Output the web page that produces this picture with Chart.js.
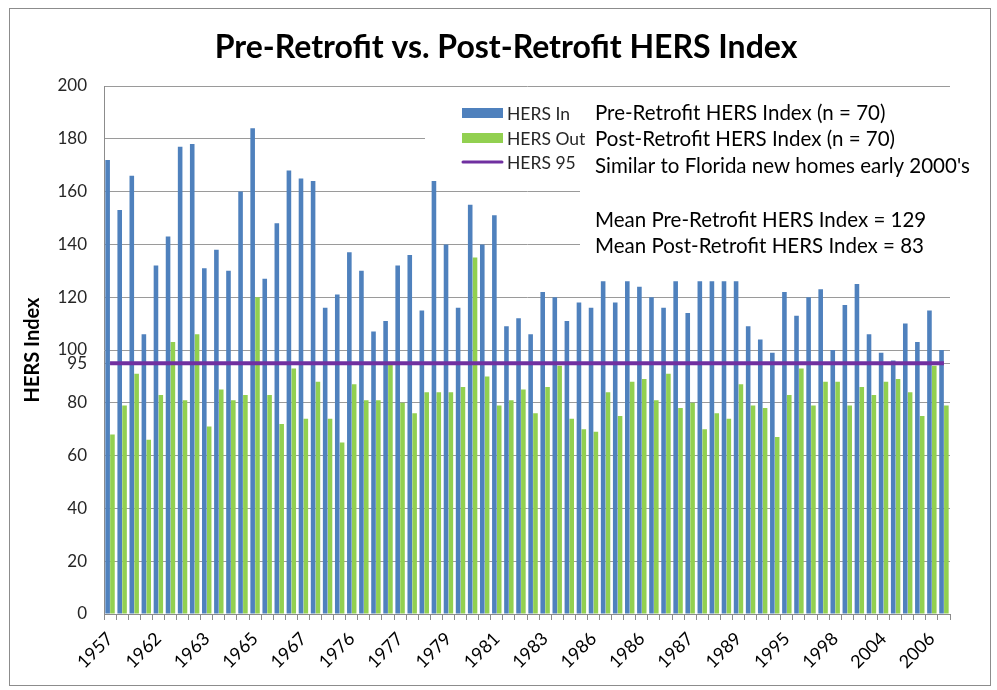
<!DOCTYPE html>
<html>
<head>
<meta charset="utf-8">
<script src="https://cdn.jsdelivr.net/npm/chart.js@4.4.1/dist/chart.umd.min.js"></script>
<style>
  html, body { margin: 0; padding: 0; background: #fff; }
  #wrap { width: 997px; height: 690px; position: relative; }
</style>
</head>
<body>
<div id="wrap"><canvas id="c" width="997" height="690"></canvas></div>
<script>
// ---- data ----
const tickLabels = ['1957','1962','1963','1965','1967','1976','1977','1979','1981',
                    '1983','1986','1986','1987','1989','1995','1998','2004','2006'];

const hersIn = [172,153,166,106,132,143,177,178,131,138,
                130,160,184,127,148,168,165,164,116,121,
                137,130,107,111,132,136,115,164,140,116,
                155,140,151,109,112,106,122,120,111,118,
                116,126,118,126,124,120,116,126,114,126,
                126,126,126,109,104,99,122,113,120,123,
                100,117,125,106,99,96,110,103,115,100];

const hersOut = [68,79,91,66,83,103,81,106,71,85,
                 81,83,120,83,72,93,74,88,74,65,
                 87,81,81,95,80,76,84,84,84,86,
                 135,90,79,81,85,76,86,94,74,70,
                 69,84,75,88,89,81,91,78,80,70,
                 76,74,87,79,78,67,83,93,79,88,
                 88,79,86,83,88,89,84,75,94,79];

const hersRef = 95;
const yTicksExtra = [95];

const seriesNames = ['HERS In', 'HERS Out', 'HERS 95'];
const titleText = 'Pre-Retrofit vs. Post-Retrofit HERS Index';
const yTitle = 'HERS Index';
const noteLines = [
  'Pre-Retrofit HERS Index (n = 70)',
  'Post-Retrofit HERS Index (n = 70)',
  "Similar to Florida new homes early 2000's",
  'Mean Pre-Retrofit HERS Index = 129',
  'Mean Post-Retrofit HERS Index = 83'
];

// category labels: one per house, only every 4th is labelled in the picture
const categories = hersIn.map((_, i) => (i % 4 === 0 ? tickLabels[i / 4] : ''));

const BLUE = '#4F81BD', GREEN = '#92D050', PURPLE = '#7030A0';
const FONT = 'Lato, "Open Sans", sans-serif';

const decor = {
  id: 'decor',
  beforeDraw(chart) {
    const ctx = chart.ctx;
    ctx.save();
    ctx.fillStyle = '#fff';
    ctx.fillRect(0, 0, chart.width, chart.height);
    ctx.strokeStyle = '#8c8c8c';
    ctx.lineWidth = 1;
    ctx.strokeRect(9.5, 8.5, 981, 677);
    ctx.restore();
  },
  beforeDatasetsDraw(chart) {
    const ctx = chart.ctx;
    ctx.save();
    ctx.fillStyle = '#fff';
    ctx.fillRect(425, 92, 155, 92);   // legend box
    ctx.fillRect(580, 92, 380, 176);  // note box
    ctx.restore();
  },
  afterDraw(chart) {
    const ctx = chart.ctx;
    ctx.save();
    // title
    ctx.fillStyle = '#000';
    ctx.font = 'bold 32px ' + FONT;
    ctx.textAlign = 'center';
    ctx.textBaseline = 'alphabetic';
    ctx.fillText(titleText, 506, 58);

    // legend
    ctx.textAlign = 'left';
    ctx.textBaseline = 'middle';
    ctx.font = '17.5px ' + FONT;
    const lx = 462, ly = [113, 138, 162];
    ctx.fillStyle = BLUE;  ctx.fillRect(lx, ly[0] - 5, 41, 10);
    ctx.fillStyle = GREEN; ctx.fillRect(lx, ly[1] - 5, 41, 10);
    ctx.strokeStyle = PURPLE; ctx.lineWidth = 3; ctx.lineCap = 'round';
    ctx.beginPath(); ctx.moveTo(lx + 1, ly[2]); ctx.lineTo(lx + 40, ly[2]); ctx.stroke();
    ctx.fillStyle = '#262626';
    seriesNames.forEach((n, i) => ctx.fillText(n, 507, ly[i] + 1));

    // note text
    ctx.fillStyle = '#000';
    ctx.font = '20.5px ' + FONT;
    const ny = [113, 139, 166, 220, 246];
    noteLines.forEach((t, i) => ctx.fillText(t, 595, ny[i]));
    ctx.restore();
  }
};

new Chart(document.getElementById('c'), {
  type: 'bar',
  data: {
    labels: categories,
    datasets: [
      { type: 'line', label: seriesNames[2], data: categories.map(() => hersRef),
        borderColor: PURPLE, borderWidth: 4, pointRadius: 0, fill: false, order: 0 },
      { label: seriesNames[0], data: hersIn, backgroundColor: BLUE,
        categoryPercentage: 0.8, barPercentage: 0.95, order: 1 },
      { label: seriesNames[1], data: hersOut, backgroundColor: GREEN,
        categoryPercentage: 0.8, barPercentage: 0.95, order: 1 }
    ]
  },
  options: {
    responsive: false,
    animation: false,
    layout: { padding: { left: 9, top: 86, right: 47, bottom: 4 } },
    plugins: { legend: { display: false }, title: { display: false }, tooltip: { enabled: false } },
    scales: {
      x: {
        afterFit(s) { s.height = 72; },
        grid: { display: true, drawOnChartArea: false, drawTicks: true, tickLength: 6,
                color: '#8c8c8c', offset: true },
        border: { color: '#8c8c8c' },
        ticks: { autoSkip: false, maxRotation: 45, minRotation: 45, padding: 8,
                 color: '#000', font: { family: FONT, size: 18 } }
      },
      y: {
        min: 0, max: 200,
        afterFit(s) { s.width = 95; },
        afterBuildTicks(axis) {
          yTicksExtra.forEach(v => axis.ticks.push({ value: v }));
          axis.ticks.sort((a, b) => a.value - b.value);
        },
        grid: { color: '#9a9a9a', drawTicks: false },
        border: { color: '#8c8c8c' },
        ticks: { stepSize: 20, padding: 17, color: '#262626', font: { family: FONT, size: 17 } },
        title: { display: true, text: yTitle, color: '#000',
                 font: { family: FONT, size: 20, weight: 'bold' }, padding: { top: 12, bottom: 0 } }
      }
    }
  },
  plugins: [decor]
});
</script>
</body>
</html>
